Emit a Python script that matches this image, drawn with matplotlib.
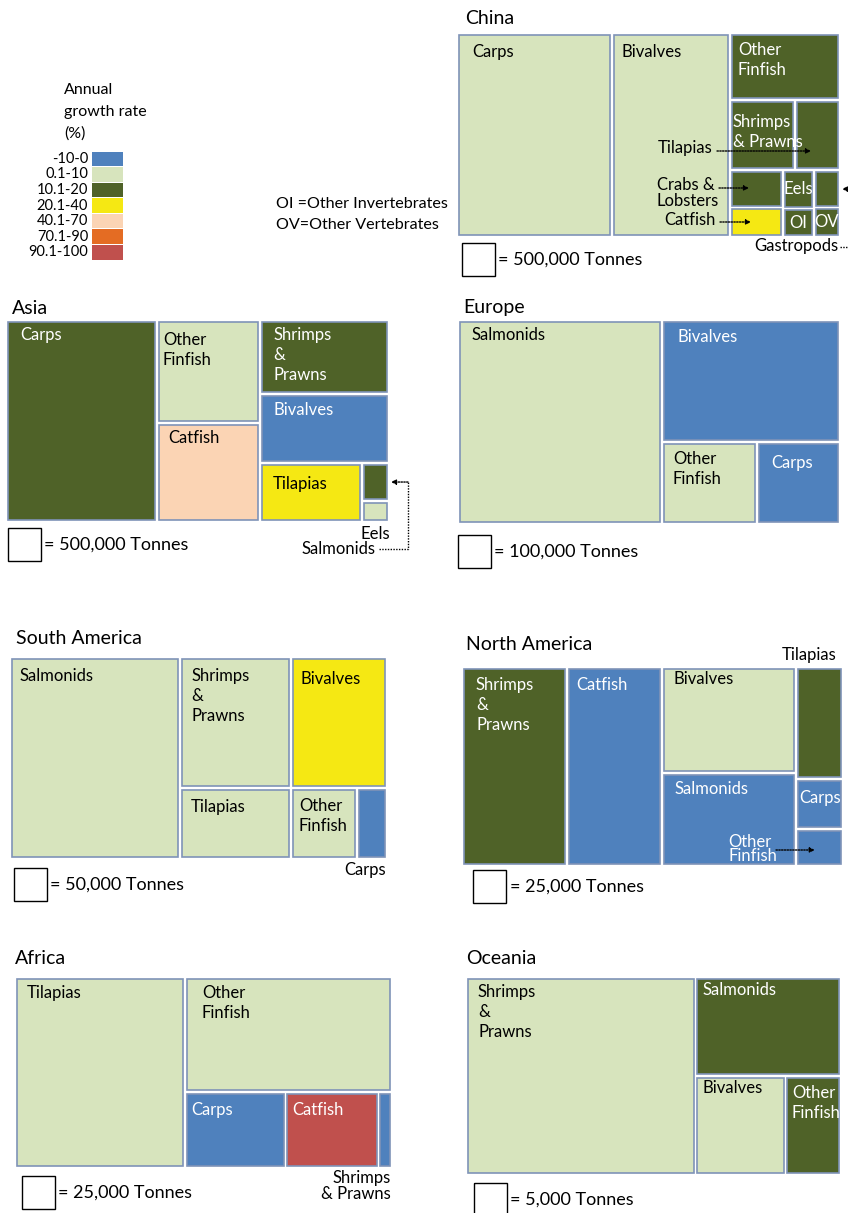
"""
Aquaculture production treemaps by region, coloured by annual growth rate.
"""

import matplotlib
matplotlib.use("Agg")
import matplotlib.pyplot as plt
from matplotlib.patches import Rectangle

plt.rcParams["font.family"] = ["Lato", "DejaVu Sans"]

# growth-rate classes (legend)
GROWTH_BINS = ["-10-0", "0.1-10", "10.1-20", "20.1-40", "40.1-70", "70.1-90", "90.1-100"]
GROWTH_COLORS = ["#4f81bd", "#d7e4bd", "#4f6228", "#f5e813", "#fbd4b4", "#e46c23", "#c0504d"]

# production (thousand tonnes) and growth class index per species group
CHINA_GROUPS = ["Carps", "Bivalves", "Other Finfish", "Shrimps & Prawns", "Tilapias",
                "Crabs & Lobsters", "Catfish", "Eels", "OI", "Gastropods", "OV"]
CHINA_KT = [14500, 11050, 3380, 2090, 1450, 920, 710, 540, 410, 450, 350]
CHINA_GROWTH = [1, 1, 2, 2, 2, 2, 3, 2, 2, 2, 2]

ASIA_GROUPS = ["Carps", "Other Finfish", "Catfish", "Shrimps & Prawns", "Bivalves",
               "Tilapias", "Salmonids", "Eels"]
ASIA_KT = [14000, 4870, 4680, 4380, 4090, 2760, 470, 260]
ASIA_GROWTH = [2, 1, 4, 2, 0, 3, 2, 1]

EUROPE_GROUPS = ["Salmonids", "Bivalves", "Other Finfish", "Carps"]
EUROPE_KT = [3820, 1994, 715, 625]
EUROPE_GROWTH = [1, 0, 1, 0]

SAM_GROUPS = ["Salmonids", "Shrimps & Prawns", "Tilapias", "Bivalves", "Other Finfish", "Carps"]
SAM_KT = [1576, 667, 362, 577, 215, 98]
SAM_GROWTH = [1, 1, 1, 3, 1, 0]

NAM_GROUPS = ["Shrimps & Prawns", "Catfish", "Bivalves", "Salmonids", "Tilapias", "Carps",
              "Other Finfish"]
NAM_KT = [480, 434, 326, 286, 121, 54, 40]
NAM_GROWTH = [2, 0, 1, 0, 2, 0, 0]

AFRICA_GROUPS = ["Tilapias", "Other Finfish", "Carps", "Catfish", "Shrimps & Prawns"]
AFRICA_KT = [745, 547, 176, 161, 24]
AFRICA_GROWTH = [1, 1, 0, 6, 0]

OCEANIA_GROUPS = ["Shrimps & Prawns", "Salmonids", "Bivalves", "Other Finfish"]
OCEANIA_KT = [208, 66, 41, 25]
OCEANIA_GROWTH = [1, 2, 1, 2]

EDGE = "#7f93b8"
GAP = 1.6
KEY = 32.5
DARK = {0, 2, 6}
LABEL_FS = 12
TITLE_FS = 14
KEY_FS = 13


def node_total(node, vals):
    if isinstance(node, str):
        return vals[node]
    return sum(node_total(k, vals) for k in node[1])


def slice_dice(node, x, y, w, h, vals, out):
    """Split the box along 'h' (columns) or 'v' (rows) in proportion to values."""
    if isinstance(node, str):
        out[node] = (x, y, w, h)
        return
    kind, kids = node
    s = node_total(node, vals)
    pos = 0.0
    for k in kids:
        f = node_total(k, vals) / s
        if kind == "h":
            slice_dice(k, x + pos * w, y, f * w, h, vals, out)
        else:
            slice_dice(k, x, y + pos * h, w, f * h, vals, out)
        pos += f


def draw_panel(ax, title, groups, kt, growth, tree, box, title_xy, unit, key_xy, labels):
    vals = dict(zip(groups, kt))
    cls = dict(zip(groups, growth))
    rects = {}
    slice_dice(tree, *box, vals, rects)
    for g, (x, y, w, h) in rects.items():
        ax.add_patch(Rectangle((x + GAP, y + GAP), w - 2 * GAP, h - 2 * GAP,
                               facecolor=GROWTH_COLORS[cls[g]], edgecolor=EDGE, lw=1.2))
    for g, lab in labels.items():
        x, y, w, h = rects[g]
        col = "white" if cls[g] in DARK else "black"
        if len(lab) == 1:
            ax.text(x + w / 2, y + h / 2, lab[0], color=col, fontsize=LABEL_FS,
                    ha="center", va="center")
        else:
            txt, dx, dy = lab
            ax.text(x + dx, y + dy - 3, txt, color=col, fontsize=LABEL_FS,
                    ha="left", va="top", linespacing=1.3)
    ax.text(*title_xy, title, fontsize=TITLE_FS, va="center")
    kx, ky = key_xy
    ax.add_patch(Rectangle((kx, ky), KEY, KEY, fill=False, ec="black", lw=1))
    ax.text(kx + KEY + 4, ky + KEY / 2, f"= {unit:,} Tonnes", fontsize=KEY_FS, va="center")
    return rects


def dotted_arrow(ax, pts):
    xs, ys = zip(*pts[:-1])
    if len(pts) > 2:
        ax.plot(xs, ys, color="black", lw=1, ls=(0, (1, 1)), clip_on=True)
    ax.annotate("", xy=pts[-1], xytext=pts[-2],
                arrowprops=dict(arrowstyle="-|>", color="black", lw=1, ls=(0, (1, 1)),
                                mutation_scale=7, shrinkA=0, shrinkB=0))


fig = plt.figure(figsize=(8.48, 12.13), dpi=100)
ax = fig.add_axes([0, 0, 1, 1])
ax.set_xlim(0, 848)
ax.set_ylim(1213, 0)
ax.axis("off")

# legend
ax.text(64, 112, "Annual\ngrowth rate\n(%)", fontsize=11.5, va="center", linespacing=1.7)
sw_h = 109 / len(GROWTH_BINS)
for i, (lab, c) in enumerate(zip(GROWTH_BINS, GROWTH_COLORS)):
    y0 = 151 + i * sw_h
    ax.add_patch(Rectangle((92, y0 + 0.5), 31, sw_h - 1, facecolor=c, edgecolor="none"))
    ax.text(88, y0 + sw_h / 2, lab, fontsize=10.5, ha="right", va="center")

ax.text(276, 204, "OI =Other Invertebrates", fontsize=11.6, va="center")
ax.text(276, 225, "OV=Other Vertebrates", fontsize=11.6, va="center")

# China
china_tree = ("h", ["Carps", "Bivalves",
                    ("v", ["Other Finfish",
                           ("h", ["Shrimps & Prawns", "Tilapias"]),
                           ("h", [("v", ["Crabs & Lobsters", "Catfish"]),
                                  ("v", ["Eels", "OI"]),
                                  ("v", ["Gastropods", "OV"])])])])
r = draw_panel(ax, "China", CHINA_GROUPS, CHINA_KT, CHINA_GROWTH, china_tree,
               (457, 33, 383, 204), (465, 18), 500000, (462, 243),
               {"Carps": ("Carps", 15, 14), "Bivalves": ("Bivalves", 10, 14),
                "Other Finfish": ("Other\nFinfish", 8, 12),
                "Shrimps & Prawns": ("Shrimps\n& Prawns", 3, 17),
                "Eels": ("Eels",), "OI": ("OI",), "OV": ("OV",)})
ax.text(713, 148, "Tilapias", fontsize=LABEL_FS, ha="right", va="center")
dotted_arrow(ax, [(717, 151), (811, 151)])
ax.text(657, 193, "Crabs &\nLobsters", fontsize=LABEL_FS, ha="left", va="center", linespacing=1.0)
dotted_arrow(ax, [(719, 188), (749, 188)])
ax.text(716, 220, "Catfish", fontsize=LABEL_FS, ha="right", va="center")
dotted_arrow(ax, [(720, 222), (751, 222)])
ax.text(838, 246, "Gastropods", fontsize=LABEL_FS, ha="right", va="center")
dotted_arrow(ax, [(840, 247), (860, 247), (860, 189), (842, 189)])

# Asia
asia_tree = ("h", ["Carps", ("v", ["Other Finfish", "Catfish"]),
                   ("v", ["Shrimps & Prawns", "Bivalves",
                          ("h", ["Tilapias", ("v", ["Salmonids", "Eels"])])])])
r = draw_panel(ax, "Asia", ASIA_GROUPS, ASIA_KT, ASIA_GROWTH, asia_tree,
               (6, 320, 383, 202), (12, 308), 500000, (8, 528),
               {"Carps": ("Carps", 14, 10), "Other Finfish": ("Other\nFinfish", 6, 15),
                "Catfish": ("Catfish", 11, 10),
                "Shrimps & Prawns": ("Shrimps\n&\nPrawns", 13, 10),
                "Bivalves": ("Bivalves", 13, 11), "Tilapias": ("Tilapias", 13, 16)})
ax.text(390, 534, "Eels", fontsize=LABEL_FS, ha="right", va="center")
ax.text(376, 549, "Salmonids", fontsize=LABEL_FS, ha="right", va="center")
sx, sy, sw, sh = r["Salmonids"]
dotted_arrow(ax, [(379, 549), (408, 549), (408, sy + sh / 2), (sx + sw + 2, sy + sh / 2)])

# Europe
europe_tree = ("h", ["Salmonids", ("v", ["Bivalves", ("h", ["Other Finfish", "Carps"])])])
draw_panel(ax, "Europe", EUROPE_GROUPS, EUROPE_KT, EUROPE_GROWTH, europe_tree,
           (458, 320, 382, 204), (463, 308), 100000, (458, 535),
           {"Salmonids": ("Salmonids", 14, 10), "Bivalves": ("Bivalves", 16, 12),
            "Other Finfish": ("Other\nFinfish", 11, 12), "Carps": ("Carps", 14, 16)})

# South America
sam_tree = ("h", ["Salmonids", ("v", ["Shrimps & Prawns", "Tilapias"]),
                  ("v", ["Bivalves", ("h", ["Other Finfish", "Carps"])])])
draw_panel(ax, "South America", SAM_GROUPS, SAM_KT, SAM_GROWTH, sam_tree,
           (10, 657, 377, 202), (16, 638), 50000, (14, 868),
           {"Salmonids": ("Salmonids", 10, 14),
            "Shrimps & Prawns": ("Shrimps\n&\nPrawns", 11, 14),
            "Bivalves": ("Bivalves", 10, 17), "Tilapias": ("Tilapias", 11, 14),
            "Other Finfish": ("Other\nFinfish", 8, 13)})
ax.text(386, 870, "Carps", fontsize=LABEL_FS, ha="right", va="center")

# North America
nam_tree = ("h", ["Shrimps & Prawns", "Catfish", ("v", ["Bivalves", "Salmonids"]),
                  ("v", ["Tilapias", "Carps", "Other Finfish"])])
r = draw_panel(ax, "North America", NAM_GROUPS, NAM_KT, NAM_GROWTH, nam_tree,
               (462, 667, 381, 199), (466, 645), 25000, (473, 870),
               {"Shrimps & Prawns": ("Shrimps\n&\nPrawns", 14, 13),
                "Catfish": ("Catfish", 9, 13), "Bivalves": ("Bivalves", 11, 7),
                "Salmonids": ("Salmonids", 12, 11), "Carps": ("Carps", 3, 14)})
ax.text(836, 655, "Tilapias", fontsize=LABEL_FS, ha="right", va="center")
ax.text(728, 849, "Other\nFinfish", fontsize=LABEL_FS, color="white", ha="left",
        va="center", linespacing=0.9)
ox, oy, ow, oh = r["Other Finfish"]
dotted_arrow(ax, [(776, 850), (ox + ow * 0.4, 850)])

# Africa
africa_tree = ("h", ["Tilapias", ("v", ["Other Finfish",
                                        ("h", ["Carps", "Catfish", "Shrimps & Prawns"])])])
draw_panel(ax, "Africa", AFRICA_GROUPS, AFRICA_KT, AFRICA_GROWTH, africa_tree,
           (15, 977, 377, 191), (15, 958), 25000, (22, 1176),
           {"Tilapias": ("Tilapias", 12, 11), "Other Finfish": ("Other\nFinfish", 17, 11),
            "Carps": ("Carps", 6, 13), "Catfish": ("Catfish", 6, 13)})
ax.text(391, 1186, "Shrimps\n& Prawns", fontsize=LABEL_FS, ha="right", va="center",
        linespacing=1.0)

# Oceania
oceania_tree = ("h", ["Shrimps & Prawns", ("v", ["Salmonids", ("h", ["Bivalves", "Other Finfish"])])])
draw_panel(ax, "Oceania", OCEANIA_GROUPS, OCEANIA_KT, OCEANIA_GROWTH, oceania_tree,
           (466, 977, 375, 198), (466, 958), 5000, (474, 1183),
           {"Shrimps & Prawns": ("Shrimps\n&\nPrawns", 12, 10),
            "Salmonids": ("Salmonids", 7, 8), "Bivalves": ("Bivalves", 7, 7),
            "Other Finfish": ("Other\nFinfish", 6, 12)})

fig.savefig("out.png", dpi=100)
plt.close(fig)
